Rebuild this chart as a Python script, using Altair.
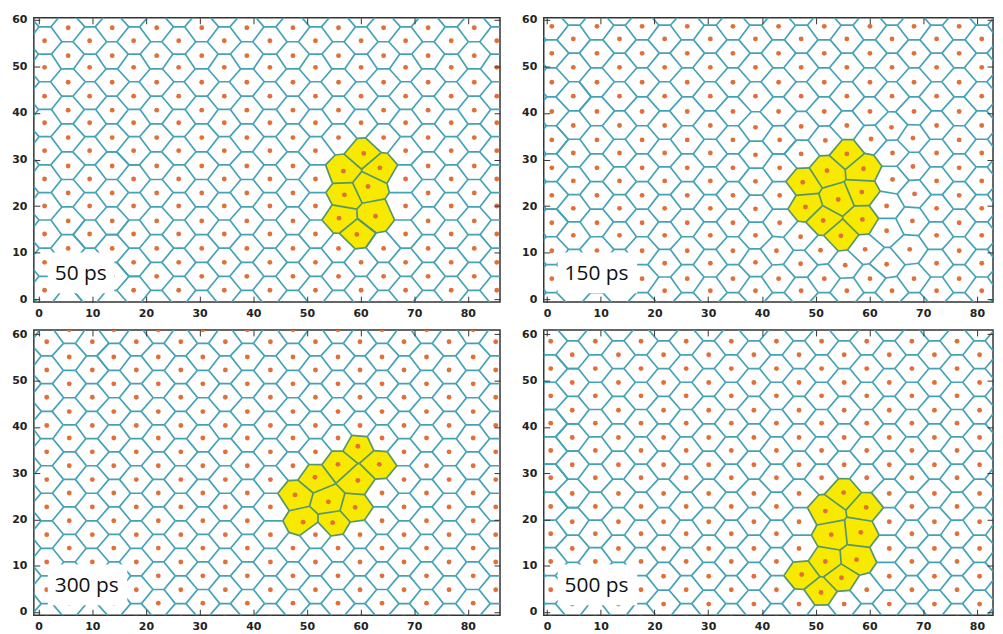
import numpy as np
import pandas as pd
import altair as alt

X_TICKS = [0, 10, 20, 30, 40, 50, 60, 70, 80]
Y_TICKS = [0, 10, 20, 30, 40, 50, 60]
TIME_LABELS = ["50 ps", "150 ps", "300 ps", "500 ps"]

# ---- panel 1 (50 ps) ----
P1_COL_X = [-3.1, 1.1, 5.5, 9.5, 13.7, 17.7, 22.0, 26.1, 30.4, 34.6, 38.8, 43.1, 47.4,
            51.6, 55.9, 60.1, 64.3, 68.4, 72.6, 76.9, 81.2, 85.4, 89.6]
P1_ROW_EVEN = [-4.1, 1.9, 7.9, 14.0, 20.0, 25.8, 31.9, 37.9, 43.6, 49.8, 55.5, 61.5]
P1_ROW_ODD = [-1.1, 4.9, 10.9, 16.8, 22.8, 28.6, 34.7, 40.6, 46.6, 52.3, 58.3, 64.3]
P1_YEL_X = [60.6, 63.6, 56.8, 61.4, 57.0, 62.8, 56.0, 59.3]
P1_YEL_Y = [31.3, 28.2, 27.5, 24.2, 22.4, 17.8, 17.4, 13.9]
P1_NB_X = []
P1_NB_Y = []
P1_BOX = [59.0, 65.0, 19.0, 24.0]

# ---- panel 2 (150 ps) ----
P2_COL_X = [-3.3, 0.9, 4.9, 9.3, 13.5, 17.7, 21.9, 26.1, 30.4, 34.6, 38.8, 43.1, 47.3,
            51.6, 55.8, 60.1, 64.2, 68.3, 72.5, 76.7, 80.9, 85.1, 89.3]
P2_ROW_EVEN = [-1.6, 4.4, 10.4, 16.4, 22.3, 28.2, 34.2, 40.3, 46.6, 52.8, 58.6, 64.6]
P2_ROW_ODD = [-4.2, 1.8, 7.7, 13.7, 19.5, 25.4, 31.4, 37.3, 43.6, 49.8, 55.9, 61.8]
P2_YEL_X = [55.8, 52.1, 58.9, 47.6, 54.2, 58.6, 48.1, 51.4, 58.7, 54.7]
P2_YEL_Y = [31.2, 27.6, 28.0, 25.1, 21.4, 23.0, 19.8, 16.9, 17.1, 13.6]
P2_NB_X = [38.8, 38.8, 38.8, 38.8, 38.8, 38.8,
           43.3, 43.3, 43.3, 43.3, 42.7,
           47.3, 47.3, 47.2, 47.2,
           51.8, 50.9,
           55.8, 55.5,
           60.3, 59.2,
           64.1, 64.3, 64.3, 63.2, 63.2, 63.2,
           68.1, 68.1, 68.4, 68.0, 67.5]
P2_NB_Y = [36.9, 31.0, 25.3, 19.4, 13.7, 7.9,
           34.2, 28.2, 22.3, 16.4, 10.4,
           37.1, 31.2, 13.4, 7.6,
           34.1, 10.5,
           37.3, 7.3,
           34.4, 10.7,
           36.9, 31.4, 25.7, 20.0, 14.7, 7.5,
           34.6, 28.5, 22.6, 16.8, 10.7]
P2_BOX = [36.5, 70.0, 6.0, 39.0]

# ---- panel 3 (300 ps) ----
P3_COL_X = [-2.7, 1.5, 5.7, 10.0, 14.0, 18.2, 22.3, 26.5, 30.6, 34.8, 38.9, 43.2, 47.4,
            51.6, 55.8, 59.9, 64.0, 68.1, 72.3, 76.5, 81.0, 85.2, 89.4]
P3_ROW_EVEN = [-1.2, 4.8, 10.8, 16.7, 22.7, 28.6, 34.6, 40.3, 46.4, 52.3, 58.4, 64.3]
P3_ROW_ODD = [-4.1, 1.9, 7.8, 13.8, 19.7, 25.7, 31.6, 37.6, 43.3, 49.3, 55.1, 61.0]
P3_YEL_X = [59.5, 55.8, 63.5, 51.5, 59.5, 47.8, 54.0, 59.0, 49.3, 54.8]
P3_YEL_Y = [35.8, 31.9, 31.9, 29.1, 28.4, 25.3, 23.8, 22.6, 19.4, 19.3]
P3_NB_X = []
P3_NB_Y = []
P3_BOX = [0.0, 0.0, 0.0, 0.0]

# ---- panel 4 (500 ps) ----
P4_COL_X = [-3.5, 0.7, 4.7, 9.0, 13.3, 17.5, 21.7, 25.9, 30.1, 34.3, 38.5, 42.7, 46.9,
            51.1, 55.3, 59.5, 63.7, 67.9, 72.1, 76.3, 80.5, 84.7, 88.9]
P4_ROW_EVEN = [-1.2, 4.8, 10.9, 16.9, 22.8, 29.0, 34.9, 40.8, 46.7, 52.6, 58.5, 64.4]
P4_ROW_ODD = [-4.3, 1.7, 7.7, 13.7, 19.5, 25.6, 31.8, 37.7, 43.6, 49.6, 55.6, 61.6]
P4_YEL_X = [55.2, 51.8, 59.4, 52.9, 58.4, 51.8, 57.6, 47.4, 54.8, 51.0]
P4_YEL_Y = [25.8, 21.8, 22.6, 16.7, 17.2, 10.9, 11.3, 8.1, 7.4, 4.2]
P4_NB_X = []
P4_NB_Y = []
P4_BOX = [54.5, 56.5, 12.5, 20.5]

PANELS = [
    (P1_COL_X, P1_ROW_EVEN, P1_ROW_ODD, P1_YEL_X, P1_YEL_Y, P1_NB_X, P1_NB_Y, P1_BOX),
    (P2_COL_X, P2_ROW_EVEN, P2_ROW_ODD, P2_YEL_X, P2_YEL_Y, P2_NB_X, P2_NB_Y, P2_BOX),
    (P3_COL_X, P3_ROW_EVEN, P3_ROW_ODD, P3_YEL_X, P3_YEL_Y, P3_NB_X, P3_NB_Y, P3_BOX),
    (P4_COL_X, P4_ROW_EVEN, P4_ROW_ODD, P4_YEL_X, P4_YEL_Y, P4_NB_X, P4_NB_Y, P4_BOX),
]

TEAL = "#44a2b6"
EDGE_YEL = "#55966a"
YELLOW = "#f7ea00"
ORANGE = "#e0703a"
REPLACE_R = 2.8


def build_points(cols, even, odd, yx, yy, nx, ny, box):
    ex = list(zip(yx, yy)) + list(zip(nx, ny))
    exa = np.array(ex, dtype=float) if ex else np.zeros((0, 2))
    pts = []
    flags = []
    for k, cx in enumerate(cols):
        rows = odd if (k % 2 == 0) else even  # list index 0 is an odd column
        for ry in rows:
            if box[0] <= cx <= box[1] and box[2] <= ry <= box[3]:
                continue
            if len(exa) and np.min(np.hypot(exa[:, 0] - cx, exa[:, 1] - ry)) < REPLACE_R:
                continue
            pts.append((cx, ry))
            flags.append(False)
    for x, y in zip(yx, yy):
        pts.append((x, y))
        flags.append(True)
    for x, y in zip(nx, ny):
        pts.append((x, y))
        flags.append(False)
    return np.array(pts, dtype=float), np.array(flags)


def clip_poly(poly, n, c):
    out = []
    m = len(poly)
    for k in range(m):
        A = poly[k]
        B = poly[(k + 1) % m]
        fa = n[0] * A[0] + n[1] * A[1] - c
        fb = n[0] * B[0] + n[1] * B[1] - c
        if fa <= 0:
            out.append(A)
        if fa * fb < 0:
            t = fa / (fa - fb)
            out.append((A[0] + t * (B[0] - A[0]), A[1] + t * (B[1] - A[1])))
    return out


def voronoi(pts):
    cells = []
    for i, p in enumerate(pts):
        poly = [(p[0] - 10, p[1] - 10), (p[0] + 10, p[1] - 10),
                (p[0] + 10, p[1] + 10), (p[0] - 10, p[1] + 10)]
        d = np.hypot(pts[:, 0] - p[0], pts[:, 1] - p[1])
        for j in np.where((d > 1e-9) & (d < 14))[0]:
            q = pts[j]
            n = (q[0] - p[0], q[1] - p[1])
            mid = ((p[0] + q[0]) / 2, (p[1] + q[1]) / 2)
            c = n[0] * mid[0] + n[1] * mid[1]
            poly = clip_poly(poly, n, c)
            if not poly:
                break
        cells.append(poly)
    return cells


def area_rows(poly, cid):
    P = np.array(poly)
    n = len(P)
    xs = np.unique(np.round(P[:, 0], 6))
    rows = []
    for xv in xs:
        ys = []
        for k in range(n):
            A = P[k]
            B = P[(k + 1) % n]
            if abs(A[0] - xv) < 1e-5:
                ys.append(A[1])
            lo, hi = min(A[0], B[0]), max(A[0], B[0])
            if hi - lo > 1e-9 and lo - 1e-9 <= xv <= hi + 1e-9:
                t = (xv - A[0]) / (B[0] - A[0])
                ys.append(A[1] + t * (B[1] - A[1]))
        rows.append({"cell": cid, "x": float(xv), "ylo": float(min(ys)), "yhi": float(max(ys))})
    return rows


def panel(idx, xdom, ydom, width, height):
    cols, even, odd, yx, yy, nx, ny, box = PANELS[idx]
    pts, flags = build_points(cols, even, odd, yx, yy, nx, ny, box)
    cells = voronoi(pts)

    segs = {}
    arows = []
    for i, poly in enumerate(cells):
        if len(poly) < 3:
            continue
        if flags[i]:
            arows += area_rows(poly, i)
        m = len(poly)
        for k in range(m):
            A = poly[k]
            B = poly[(k + 1) % m]
            if np.hypot(A[0] - B[0], A[1] - B[1]) < 1e-6:
                continue
            if max(A[0], B[0]) < xdom[0] - 2 or min(A[0], B[0]) > xdom[1] + 2:
                continue
            if max(A[1], B[1]) < ydom[0] - 2 or min(A[1], B[1]) > ydom[1] + 2:
                continue
            key = tuple(sorted([(round(A[0], 2), round(A[1], 2)), (round(B[0], 2), round(B[1], 2))]))
            col = EDGE_YEL if flags[i] else TEAL
            if key in segs:
                if flags[i]:
                    segs[key]["c"] = EDGE_YEL
                continue
            segs[key] = {"x": A[0], "y": A[1], "x2": B[0], "y2": B[1], "c": col}
    seg_df = pd.DataFrame(list(segs.values()))
    seg_df["o"] = (seg_df["c"] == EDGE_YEL).astype(int)
    area_df = pd.DataFrame(arows)
    pt_df = pd.DataFrame({"x": pts[:, 0], "y": pts[:, 1]})

    xs = alt.Scale(domain=xdom, nice=False, zero=False)
    ys = alt.Scale(domain=ydom, nice=False, zero=False)

    ax_bottom = alt.Axis(values=X_TICKS, orient="bottom", offset=-6, tickSize=6, domain=False,
                         labelPadding=5, labelFlush=False, title=None, grid=False, zindex=1)
    ax_left = alt.Axis(values=Y_TICKS, orient="left", offset=-6, tickSize=6, domain=False,
                       labelPadding=7, labelFlush=False, title=None, grid=False, zindex=1)
    ax_top = alt.Axis(values=X_TICKS, orient="top", offset=-6, tickSize=6, domain=False,
                      labels=False, title=None, grid=False, zindex=1)
    ax_right = alt.Axis(values=Y_TICKS, orient="right", offset=-6, tickSize=6, domain=False,
                        labels=False, title=None, grid=False, zindex=1)

    fill = alt.Chart(area_df).mark_area(color=YELLOW, clip=True, interpolate="linear").encode(
        x=alt.X("x:Q", scale=xs, axis=ax_bottom),
        y=alt.Y("yhi:Q", scale=ys, axis=ax_left),
        y2="ylo:Q",
        detail="cell:N",
    )
    edges = alt.Chart(seg_df).mark_rule(strokeWidth=1.7, clip=True).encode(
        x=alt.X("x:Q", scale=xs, axis=ax_top),
        y=alt.Y("y:Q", scale=ys, axis=ax_right),
        x2="x2:Q",
        y2="y2:Q",
        color=alt.Color("c:N", scale=None),
        order="o:Q",
    )
    dots = alt.Chart(pt_df).mark_circle(size=24, color=ORANGE, opacity=1, clip=True).encode(
        x=alt.X("x:Q", scale=xs, axis=None),
        y=alt.Y("y:Q", scale=ys, axis=None),
    )
    label = TIME_LABELS[idx]
    lab_df = pd.DataFrame({"t": [label]})
    tw = 53 if len(label) == 5 else 66
    box_mark = alt.Chart(lab_df).mark_rect(color="white").encode(
        x=alt.value(14), x2=alt.value(21 + tw + 7), y=alt.value(236), y2=alt.value(277)
    )
    text = alt.Chart(lab_df).mark_text(align="left", baseline="alphabetic", font="Open Sans",
                                       fontSize=21, color="#111").encode(
        x=alt.value(21), y=alt.value(264), text="t:N"
    )
    return alt.layer(fill, edges, dots, box_mark, text).resolve_axis(
        x="independent", y="independent"
    ).properties(width=width, height=height)


TOP_Y = [-0.64, 60.43]
BOT_Y = [-0.71, 60.95]
LEFT_X = [-0.9, 86.0]
RIGHT_X = [-0.6, 83.0]

p1 = panel(0, LEFT_X, TOP_Y, 469, 286)
p2 = panel(1, RIGHT_X, TOP_Y, 452, 286)
p3 = panel(2, LEFT_X, BOT_Y, 469, 287)
p4 = panel(3, RIGHT_X, BOT_Y, 452, 287)

top = alt.hconcat(p1, p2, spacing=18).resolve_scale(x="independent", y="independent")
bot = alt.hconcat(p3, p4, spacing=18).resolve_scale(x="independent", y="independent")
chart = alt.vconcat(top, bot, spacing=8).resolve_scale(x="independent", y="independent").properties(
    padding={"left": 2, "top": 3, "right": 0, "bottom": 0}
).configure_view(stroke="#333333", strokeWidth=1.5).configure_axis(
    labelFont="DejaVu Sans", labelFontWeight="bold", labelFontSize=11, labelColor="#222222",
    tickColor="#333333", tickWidth=1
)

chart.save("out.html", embed_options={"renderer": "svg", "actions": False})
